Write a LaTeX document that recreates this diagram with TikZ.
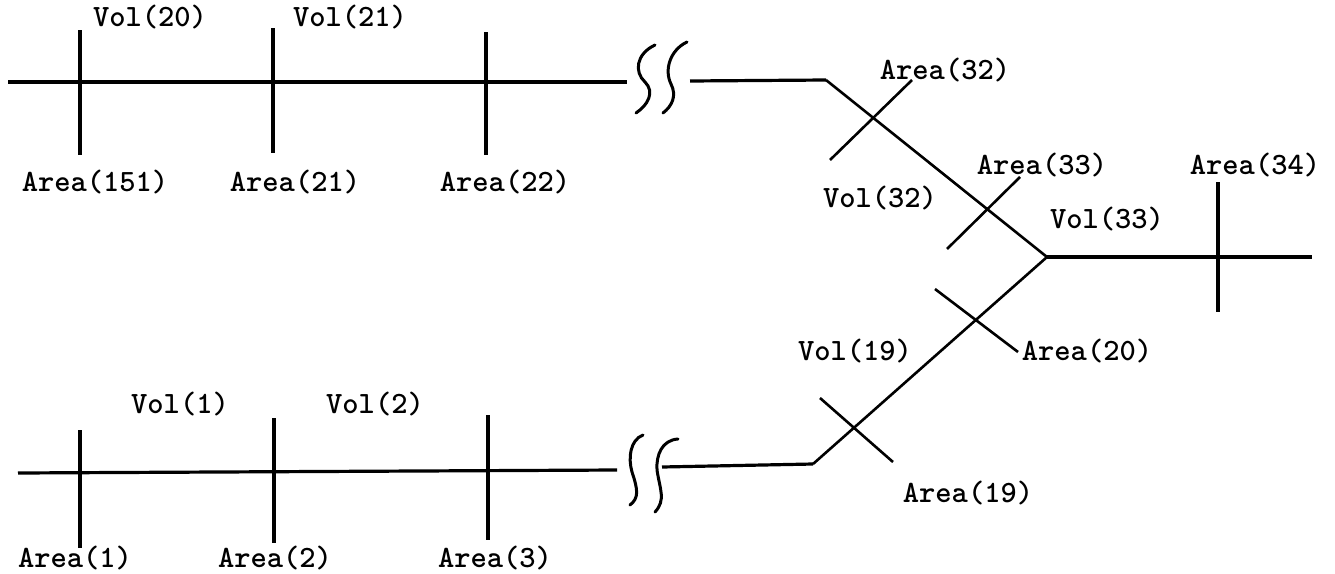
\documentclass[tikz,border=0pt]{standalone}
\usepackage{fontspec}
\begin{document}
\begin{tikzpicture}[x=1pt,y=-1pt,
  pipe/.style={line width=3.2pt},
  diag/.style={line width=2.6pt},
  tick/.style={line width=3.4pt},
  brk/.style={line width=3pt, line cap=round},
  lbl/.style={font=\fontsize{31}{36}\selectfont\ttfamily\bfseries, inner sep=0pt}]
\useasboundingbox (0,0) rectangle (1335,573);
% ---- main coordinates
\coordinate (t0) at (8,82);
\coordinate (t1) at (627,82);
\coordinate (t2) at (690,81);
\coordinate (tc) at (826,80);
\coordinate (j) at (1047,257);
\coordinate (r) at (1312,257);
\coordinate (b0) at (18,473);
\coordinate (b1) at (617,470);
\coordinate (b2) at (662,467);
\coordinate (bc) at (813,464);
% ---- pipes
\draw[pipe] (t0) -- (t1);
\draw[pipe] (t2) -- (tc);
\draw[diag] (tc) -- (j);
\draw[pipe] (j) -- (r);
\draw[diag] (bc) -- (j);
\draw[pipe] (b2) -- (bc);
\draw[pipe] (b0) -- (b1);
% ---- ticks, top
\coordinate (a151a) at (80,30);  \coordinate (a151b) at (80,155);
\coordinate (a21a) at (273,28);  \coordinate (a21b) at (273,153);
\coordinate (a22a) at (486,32);  \coordinate (a22b) at (486,155);
\draw[tick] (a151a) -- (a151b);
\draw[tick] (a21a) -- (a21b);
\draw[tick] (a22a) -- (a22b);
% ---- ticks, diagonal
\coordinate (a32a) at (830,160); \coordinate (a32b) at (912,80);
\coordinate (a33a) at (947,249); \coordinate (a33b) at (1020,177);
\coordinate (a34a) at (1218,182); \coordinate (a34b) at (1218,312);
\coordinate (a20a) at (935,289); \coordinate (a20b) at (1018,352);
\coordinate (a19a) at (820,398); \coordinate (a19b) at (893,462);
\draw[diag] (a32a) -- (a32b);
\draw[diag] (a33a) -- (a33b);
\draw[tick] (a34a) -- (a34b);
\draw[diag] (a20a) -- (a20b);
\draw[diag] (a19a) -- (a19b);
% ---- ticks, bottom
\coordinate (a1a) at (80,430);  \coordinate (a1b) at (80,548);
\coordinate (a2a) at (274,418); \coordinate (a2b) at (274,543);
\coordinate (a3a) at (488,415); \coordinate (a3b) at (488,540);
\draw[tick] (a1a) -- (a1b);
\draw[tick] (a2a) -- (a2b);
\draw[tick] (a3a) -- (a3b);
% ---- break symbols
\draw[brk] (655,45) .. controls (636,54) and (634,72) .. (645,82)
  .. controls (655,92) and (648,105) .. (636,113);
\draw[brk] (687,42) .. controls (670,50) and (664,70) .. (671,84)
  .. controls (677,96) and (672,106) .. (663,113);
\draw[brk] (643,435) .. controls (630,440) and (628,458) .. (632,472)
  .. controls (638,490) and (639,498) .. (630,505);
\draw[brk] (678,439) .. controls (662,440) and (656,455) .. (657,470)
  .. controls (660,490) and (666,500) .. (655,512);
% ---- labels
\node[lbl] (v20) at (150,17) {Vol(20)};
\node[lbl] (v21) at (350,17) {Vol(21)};
\node[lbl] (l151) at (95,182) {Area(151)};
\node[lbl] (l21) at (295,182) {Area(21)};
\node[lbl] (l22) at (505,182) {Area(22)};
\node[lbl] (l32) at (945,70) {Area(32)};
\node[lbl] (l33) at (1042,165) {Area(33)};
\node[lbl] (l34) at (1255,165) {Area(34)};
\node[lbl] (v32) at (880,198) {Vol(32)};
\node[lbl] (v33) at (1107,219) {Vol(33)};
\node[lbl] (v19) at (855,351) {Vol(19)};
\node[lbl] (l20) at (1087,351) {Area(20)};
\node[lbl] (l19) at (968,493) {Area(19)};
\node[lbl] (v1) at (180,404) {Vol(1)};
\node[lbl] (v2) at (375,404) {Vol(2)};
\node[lbl] (l1) at (75,558) {Area(1)};
\node[lbl] (l2) at (275,558) {Area(2)};
\node[lbl] (l3) at (495,558) {Area(3)};
\end{tikzpicture}
\end{document}
